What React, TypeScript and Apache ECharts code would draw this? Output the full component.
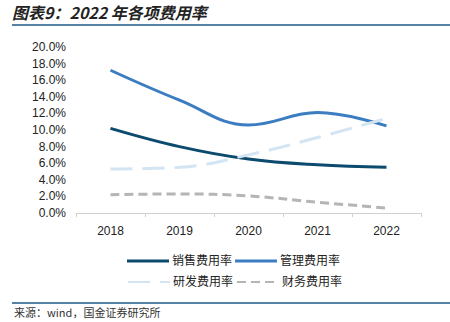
import React, { useEffect, useRef } from "react";
import * as echarts from "echarts";

const years = ["2018", "2019", "2020", "2021", "2022"];
const salesRate = [10.2, 8.0, 6.5, 5.8, 5.5];
const mgmtRate = [17.2, 13.6, 10.6, 12.1, 10.5];
const rdRate = [5.3, 5.5, 7.0, 9.1, 11.4];
const finRate = [2.2, 2.3, 2.05, 1.3, 0.6];
const titleText = "图表9：2022 年各项费用率";
const sourceText = "来源：wind，国金证券研究所";

export default function App() {
  const ref = useRef<HTMLDivElement>(null);
  useEffect(() => {
    if (!ref.current) return;
    const chart = echarts.init(ref.current, null, { renderer: "svg" });
    const font = "'Liberation Sans', Arial, 'Noto Sans CJK SC', sans-serif";
    chart.setOption({
      animation: false,
      backgroundColor: "#fff",
      textStyle: { fontFamily: font },
      graphic: [
        {
          type: "text",
          left: 12,
          top: 4,
          style: {
            text: titleText,
            font: "italic bold 16px 'Noto Sans CJK SC', sans-serif",
            fill: "#222",
          },
        },
        {
          type: "line",
          shape: { x1: 12, y1: 25, x2: 450, y2: 25 },
          style: { stroke: "#1d5a88", lineWidth: 1.5 },
        },
        {
          type: "line",
          shape: { x1: 12, y1: 303, x2: 450, y2: 303 },
          style: { stroke: "#1d5a88", lineWidth: 1.5 },
        },
        {
          type: "text",
          left: 14,
          top: 306,
          style: {
            text: sourceText,
            font: "11px 'Noto Sans CJK SC', sans-serif",
            fill: "#333",
          },
        },
      ],
      legend: [
        {
          data: ["销售费用率", "管理费用率"],
          left: 122,
          top: 250,
          itemWidth: 42,
          itemHeight: 3,
          itemGap: 3,
          icon: "rect",
          textStyle: { fontSize: 12, color: "#222", padding: [0, 0, 0, -2] },
        },
        {
          data: ["研发费用率", "财务费用率"],
          left: 122,
          top: 271,
          itemWidth: 42,
          itemHeight: 3,
          itemGap: 3,
          textStyle: { fontSize: 12, color: "#222", padding: [0, 0, 0, -2] },
        },
      ],
      grid: { left: 76, right: 29, top: 47, bottom: 109, containLabel: false },
      xAxis: {
        type: "category",
        data: years,
        boundaryGap: true,
        axisLine: { lineStyle: { color: "#d0d0d0" } },
        axisTick: { show: true, length: 4, lineStyle: { color: "#d0d0d0" } },
        axisLabel: { color: "#222", fontSize: 12, margin: 12 },
      },
      yAxis: {
        type: "value",
        min: 0,
        max: 20,
        interval: 2,
        splitLine: { show: false },
        axisLine: { show: false },
        axisTick: { show: false },
        axisLabel: {
          color: "#222",
          fontSize: 12,
          margin: 10,
          formatter: (v: number) => v.toFixed(1) + "%",
        },
      },
      series: [
        {
          name: "销售费用率",
          type: "line",
          smooth: 0.4,
          symbol: "none",
          data: salesRate,
          itemStyle: { color: "#0c4a6e" },
          lineStyle: { color: "#0c4a6e", width: 3 },
        },
        {
          name: "管理费用率",
          type: "line",
          smooth: 0.4,
          symbol: "none",
          data: mgmtRate,
          itemStyle: { color: "#3b7dc0" },
          lineStyle: { color: "#3b7dc0", width: 3 },
        },
        {
          name: "研发费用率",
          type: "line",
          smooth: 0.4,
          symbol: "none",
          data: rdRate,
          itemStyle: { color: "#d3e4f3" },
          lineStyle: { color: "#d3e4f3", width: 3, type: [22, 10] },
        },
        {
          name: "财务费用率",
          type: "line",
          smooth: 0.4,
          symbol: "none",
          data: finRate,
          itemStyle: { color: "#b5b5b5" },
          lineStyle: { color: "#b5b5b5", width: 3, type: [9, 5] },
        },
      ],
    });
    return () => chart.dispose();
  }, []);
  return <div ref={ref} style={{ width: 450, height: 322, position: "absolute", left: 0, top: 0 }} />;
}
